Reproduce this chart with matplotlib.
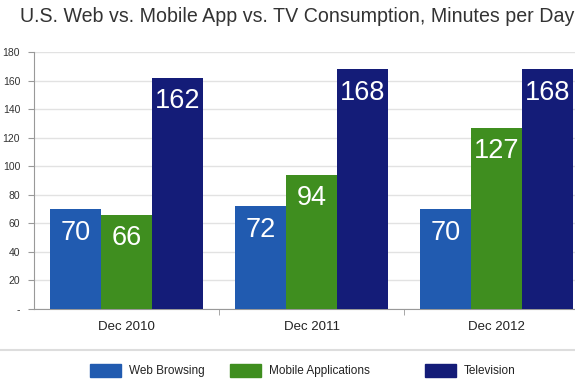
import matplotlib.pyplot as plt
import matplotlib.patches as patches
import numpy as np

plt.rcParams['font.family'] = ['Liberation Sans', 'DejaVu Sans']

periods = ['Dec 2010', 'Dec 2011', 'Dec 2012']
series = ['Web Browsing', 'Mobile Applications', 'Television']
web = [70, 72, 70]
mobile = [66, 94, 127]
tv = [162, 168, 168]
colors = ['#215BB0', '#3F8E1F', '#141C78']
yticks = [0, 20, 40, 60, 80, 100, 120, 140, 160, 180]
ytick_labels = ['-'] + [str(v) for v in yticks[1:]]

W, H = 575, 380
fig = plt.figure(figsize=(W / 100, H / 100), dpi=100)
# axes runs past the right edge, the source image is cropped there
ax = fig.add_axes([34 / W, 1 - 309 / H, 555 / W, (309 - 52) / H])

x = np.arange(len(periods))
bw = 0.277
for i, (vals, c) in enumerate(zip([web, mobile, tv], colors)):
    pos = x + (i - 1) * bw
    ax.bar(pos, vals, width=bw, color=c, zorder=3)
    for p, v in zip(pos, vals):
        ax.annotate(str(v), (p, v), xytext=(0, -17), textcoords='offset points',
                    ha='center', va='center', color='white', fontsize=19.5, zorder=4)

ax.set_xlim(-0.5, 2.5)
ax.set_ylim(0, 180)
ax.set_yticks(yticks)
ax.set_yticklabels(ytick_labels, fontsize=7.5, color='#333333')
ax.yaxis.grid(True, color='#e2e2e2', linewidth=1, zorder=0)
ax.set_xticks(x)
ax.set_xticklabels(periods, fontsize=9.5, color='#222222')
ax.set_xticks([0.5, 1.5], minor=True)
ax.tick_params(axis='x', which='major', length=0, pad=9)
ax.tick_params(axis='x', which='minor', length=4, color='#999999')
ax.tick_params(axis='y', length=4, color='#999999', pad=6)
for s in ['top', 'right']:
    ax.spines[s].set_visible(False)
ax.spines['left'].set_color('#999999')
ax.spines['bottom'].set_color('#999999')

fig.text(20 / W, 1 - 16 / H, 'U.S. Web vs. Mobile App vs. TV Consumption, Minutes per Day',
         fontsize=14.1, color='#333333', va='center', ha='left')

# separator line above legend
fig.add_artist(plt.Line2D([0, 1], [1 - 350 / H, 1 - 350 / H], color='#dddddd', linewidth=1.5))

sw_x = [90, 230, 425]
for sx, name, c in zip(sw_x, series, colors):
    fig.add_artist(patches.Rectangle((sx / W, 1 - 377 / H), 31 / W, 13 / H, color=c,
                                     transform=fig.transFigure))
    fig.text((sx + 39) / W, 1 - 371 / H, name, fontsize=8.5, color='#222222', va='center', ha='left')

fig.savefig('out.png', dpi=100)
